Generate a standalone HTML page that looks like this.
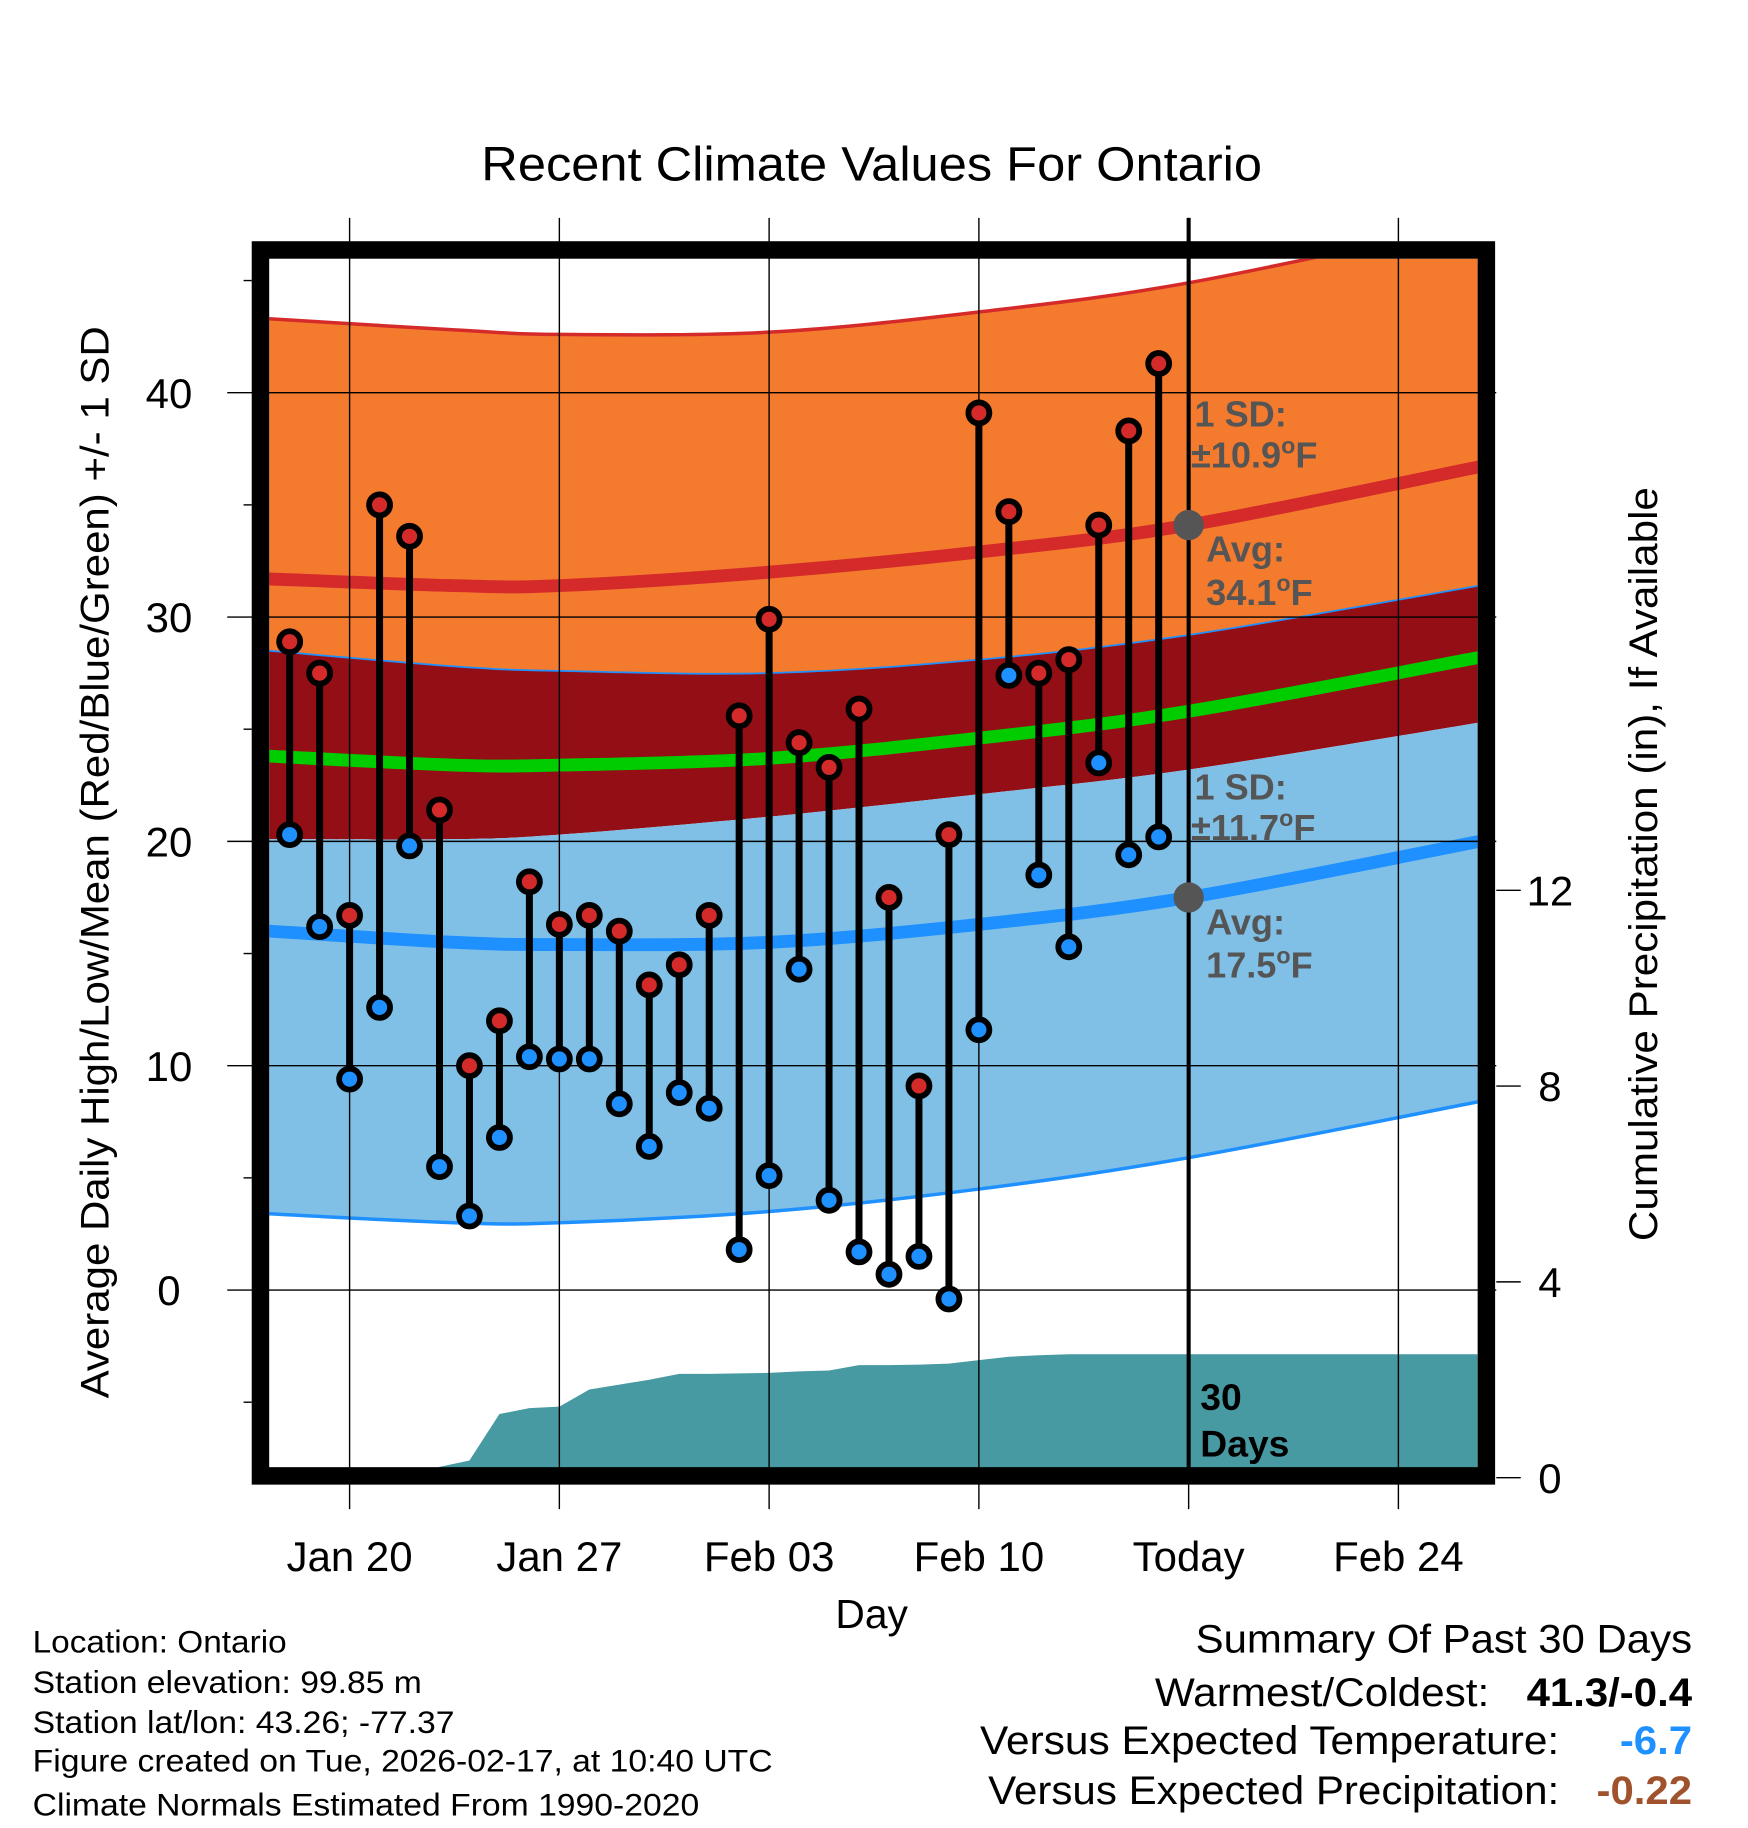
<!DOCTYPE html>
<html><head><meta charset="utf-8"><style>
html,body{margin:0;padding:0;background:#fff}
svg{display:block}
text{font-family:"Liberation Sans",Arial,sans-serif}
</style></head><body>
<svg id="chart" xmlns="http://www.w3.org/2000/svg" width="1748" height="1828" viewBox="0 0 1500 1568.65">
<g id="g"></g>
</svg>
<script>
// ---- data ----
const dayLabels = ["Jan 20","Jan 27","Feb 03","Feb 10","Today","Feb 24"];
const dayTicks = [0,7,14,21,28,35];
const highs = [28.9,27.5,16.7,35.0,33.6,21.4,10.0,12.0,18.2,16.3,16.7,16.0,13.6,14.5,16.7,25.6,29.9,24.4,23.3,25.9,17.5,9.1,20.3,39.1,34.7,27.5,28.1,34.1,38.3,41.3];
const lows  = [20.3,16.2,9.4,12.6,19.8,5.5,3.3,6.8,10.4,10.3,10.3,8.3,6.4,8.8,8.1,1.8,5.1,14.3,4.0,1.7,0.7,1.5,-0.4,11.6,27.4,18.5,15.3,23.5,19.4,20.2];
const precip = [0,0,0,0,0.0,0.22,0.35,1.3,1.42,1.45,1.8,1.9,2.0,2.12,2.12,2.13,2.14,2.17,2.19,2.3,2.3,2.31,2.33,2.4,2.47,2.5,2.52,2.52,2.52,2.52];
const normDays   = [-2.7,3.5,7,14,21,28,37.7];
const highPlusSD = [43.3,42.8,42.6,42.7,43.6,44.9,47.6];
const highAvg    = [31.7,31.4,31.4,32.0,32.9,34.1,36.7];
const highMinSD  = [28.5,27.8,27.6,27.5,28.1,29.2,31.4];
const meanAvg    = [23.8,23.4,23.4,23.7,24.6,25.8,28.2];
const lowPlusSD  = [20.1,20.1,20.3,21.1,22.1,23.2,25.3];
const lowAvg     = [16.0,15.5,15.4,15.5,16.3,17.5,20.0];
const lowMinSD   = [3.4,3.0,3.0,3.5,4.5,5.9,8.4];
const yTicks = [0,10,20,30,40];
const pTicks = [0,4,8,12];

// ---- axes ----
const X0=231,X1=1268,Y0=222,Y1=1260;
const xs = d => 300 + d*180/7;
const ys = v => 1107 - v*19.25;
const yp = v => 1268 - v*42;
const NS="http://www.w3.org/2000/svg";
const g=document.getElementById('g');
function el(t,a,p){const e=document.createElementNS(NS,t);for(const k in a)e.setAttribute(k,a[k]);(p||g).appendChild(e);return e;}
function txt(s,a,p){const e=el('text',a,p);e.textContent=s;return e;}
function fit(e,w){e.setAttribute('textLength',w);e.setAttribute('lengthAdjust','spacingAndGlyphs');}
function curvePts(arr){return normDays.map((d,i)=>[xs(d),ys(arr[i])]);}
function smooth(pts){let s='M'+pts[0][0]+','+pts[0][1];for(let i=0;i<pts.length-1;i++){const p0=pts[Math.max(0,i-1)],p1=pts[i],p2=pts[i+1],p3=pts[Math.min(pts.length-1,i+2)];
 s+=' C'+(p1[0]+(p2[0]-p0[0])/6)+','+(p1[1]+(p2[1]-p0[1])/6)+' '+(p2[0]-(p3[0]-p1[0])/6)+','+(p2[1]-(p3[1]-p1[1])/6)+' '+p2[0]+','+p2[1];}return s;}
function band(top,bot){const a=curvePts(top),b=curvePts(bot).reverse();let s=smooth(a);s+=' L'+b[0][0]+','+b[0][1];s+=smooth(b).replace(/^M[^ ]+/,'');return s+' Z';}

const defs=el('defs',{});
const cp=el('clipPath',{id:'clip'},defs);el('rect',{x:X0,y:Y0,width:X1-X0,height:Y1-Y0},cp);
const plot=el('g',{'clip-path':'url(#clip)'});

let e;
e=el('path',{d:band(highPlusSD,highMinSD),fill:'#f47a2e'},plot);

e=el('path',{d:band(highMinSD,lowPlusSD),fill:'#940e16'},plot);

e=el('path',{d:band(lowPlusSD,lowMinSD),fill:'#80c0e6'},plot);

e=el('path',{d:smooth(curvePts(highPlusSD)),fill:'none',stroke:'#d42a2a','stroke-width':3},plot);

e=el('path',{d:smooth(curvePts(highMinSD)),fill:'none',stroke:'#1e90ff','stroke-width':1.5},plot);

e=el('path',{d:smooth(curvePts(lowMinSD)),fill:'none',stroke:'#1e90ff','stroke-width':3},plot);

e=el('path',{d:smooth(curvePts(highAvg)),fill:'none',stroke:'#d42a2a','stroke-width':11},plot);

e=el('path',{d:smooth(curvePts(meanAvg)),fill:'none',stroke:'#00cc00','stroke-width':11},plot);

e=el('path',{d:smooth(curvePts(lowAvg)),fill:'none',stroke:'#1e90ff','stroke-width':11},plot);


// precip area
let pd='M'+xs(-2)+','+yp(0);
precip.forEach((v,i)=>{pd+=' L'+xs(i-2)+','+yp(v);});
pd+=' L'+X1+','+yp(precip[precip.length-1])+' L'+X1+','+yp(0)+' Z';
e=el('path',{d:pd,fill:'#4799a2'},plot);


// grid
yTicks.forEach(v=>{e=el('line',{x1:195,x2:1284,y1:ys(v),y2:ys(v),stroke:'#000','stroke-width':1.2});
});
dayTicks.forEach(d=>{e=el('line',{x1:xs(d),x2:xs(d),y1:187,y2:1295,stroke:'#000','stroke-width':1.2});
});
[-5,5,15,25,35,45].forEach(v=>{el('line',{x1:209,x2:216,y1:ys(v),y2:ys(v),stroke:'#000','stroke-width':1.2});});

// today line
e=el('line',{x1:xs(28),x2:xs(28),y1:187,y2:Y1,stroke:'#000','stroke-width':3.5});


// stems and dots
highs.forEach((h,i)=>{const x=xs(i-2);
 e=el('line',{x1:x,x2:x,y1:ys(h),y2:ys(lows[i]),stroke:'#000','stroke-width':6});
 
 e=el('circle',{cx:x,cy:ys(h),r:9,fill:'#d42a2a',stroke:'#000','stroke-width':5});
 
 e=el('circle',{cx:x,cy:ys(lows[i]),r:9,fill:'#1e90ff',stroke:'#000','stroke-width':5});
 
});
e=el('circle',{cx:xs(28),cy:ys(highAvg[5]),r:13,fill:'#555'});

e=el('circle',{cx:xs(28),cy:ys(lowAvg[5]),r:13,fill:'#555'});


// annotations
const ann=[["1 SD:",1025,366,'high-sd-label'],["±10.9°F",1022,401,'high-sd-value'],["Avg:",1035,482,'high-avg-label'],["34.1°F",1035,519,'high-avg-value'],
["1 SD:",1025,686,'low-sd-label'],["±11.7°F",1022,721,'low-sd-value'],["Avg:",1035,802,'low-avg-label'],["17.5°F",1035,839,'low-avg-value']];
ann.forEach(a=>{e=txt(a[0],{x:a[1],y:a[2],'font-size':31,'font-weight':'bold',fill:'#555'});
 if(a[0].includes('°F')){e.textContent=a[0].replace('°F','');const t=el('tspan',{dy:-12,'font-size':20},e);t.textContent='o';const t2=el('tspan',{dy:12},e);t2.textContent='F';}
 });
e=txt("30",{x:1030,y:1210,'font-size':32,'font-weight':'bold',fill:'#000'});

e=txt("Days",{x:1030,y:1250,'font-size':32,'font-weight':'bold',fill:'#000'});


// frame
e=el('rect',{x:223.5,y:214.5,width:1052,height:1052,fill:'none',stroke:'#000','stroke-width':15});


// right axis ticks
pTicks.forEach(v=>{el('line',{x1:1284,x2:1305,y1:yp(v),y2:yp(v),stroke:'#000','stroke-width':1.2});
 e=txt(String(v),{x:1330,y:yp(v)+13,'font-size':36,'text-anchor':'middle'});
 });
yTicks.forEach(v=>{e=txt(String(v),{x:145,y:ys(v)+13,'font-size':36,'text-anchor':'middle'});
 });
dayLabels.forEach((s,i)=>{e=txt(s,{x:xs(dayTicks[i]),y:1348,'font-size':36,'text-anchor':'middle'});
 });

// titles
e=txt("Recent Climate Values For Ontario",{x:413,y:155,'font-size':41});fit(e,670);

e=txt("Day",{x:748,y:1397,'font-size':35,'text-anchor':'middle'});

e=txt("Average Daily High/Low/Mean (Red/Blue/Green) +/- 1 SD",{x:0,y:0,'font-size':34,transform:'translate(93,1200) rotate(-90)'});fit(e,920);

e=txt("Cumulative Precipitation (in), If Available",{x:0,y:0,'font-size':34,transform:'translate(1422,1065) rotate(-90)'});fit(e,647);


// footer
const info=[["Location: Ontario",1418,218],["Station elevation: 99.85 m",1453,334],["Station lat/lon: 43.26; -77.37",1487,362],["Figure created on Tue, 2026-02-17, at 10:40 UTC",1520,635],["Climate Normals Estimated From 1990-2020",1558,572]];
info.forEach(a=>{e=txt(a[0],{x:28,y:a[1],'font-size':27});fit(e,a[2]);});
function rt(s,xr,y,w,extra,name){const a={x:xr-w,y:y,'font-size':34};Object.assign(a,extra||{});e=txt(s,a);fit(e,w);
 }
rt("Summary Of Past 30 Days",1452,1418,426,null,'summary-title');
rt("Warmest/Coldest:",1278,1464,287,null,'warmest-coldest-label');
rt("41.3/-0.4",1452,1464,142,{'font-weight':'bold'},'warmest-coldest-value');
rt("Versus Expected Temperature:",1338,1505,497,null,'temp-anomaly-label');
rt("-6.7",1452,1505,62,{'font-weight':'bold',fill:'#1e90ff'},'temp-anomaly-value');
rt("Versus Expected Precipitation:",1338,1548,490,null,'precip-anomaly-label');
rt("-0.22",1452,1548,82,{'font-weight':'bold',fill:'#a0522d'},'precip-anomaly-value');
</script>
</body></html>
